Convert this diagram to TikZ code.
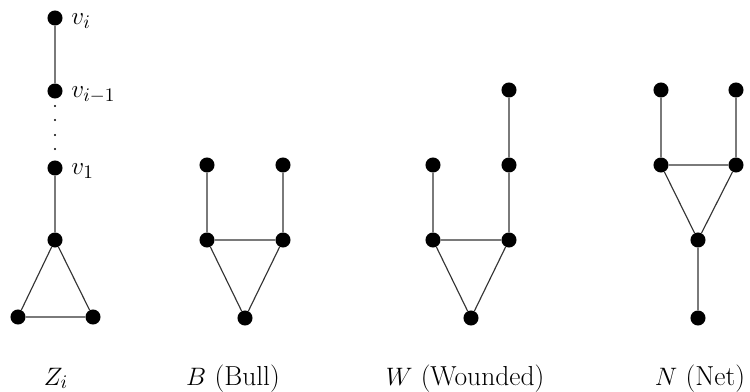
\documentclass[tikz,border=0pt]{standalone}
\begin{document}
\begin{tikzpicture}[x=0.5714pt,y=-0.5714pt,
  font=\fontsize{15.7}{19}\selectfont,
  vtx/.style={circle,fill=black,inner sep=0pt,minimum size=8.6pt},
  edge/.style={draw=black!80,line width=0.65pt},
  dt/.style={circle,fill=black,inner sep=0pt,minimum size=1.4pt},
  lbl/.style={anchor=base west,inner sep=0pt},
  captxt/.style={anchor=base,inner sep=0pt}]
\useasboundingbox (0,0) rectangle (750,392);
% Z_i
\node[vtx] (zi) at (55,18) {};
\node[vtx] (zim) at (55,91) {};
\node[vtx] (z1) at (55,168) {};
\node[vtx] (zh) at (55,240) {};
\node[vtx] (zl) at (18,317) {};
\node[vtx] (zr) at (93,317) {};
\node[dt] (d1) at (55,106) {};
\node[dt] (d2) at (55,120) {};
\node[dt] (d3) at (55,135) {};
\node[dt] (d4) at (55,149) {};
\node[lbl] (lzi) at (71,24.5) {$v_i$};
\node[lbl] (lzim) at (71,97.5) {$v_{i-1}$};
\node[lbl] (lz1) at (71,174.5) {$v_1$};
\draw[edge] (zi) -- (zim) (z1) -- (zh) -- (zl) -- (zr) -- (zh);
% B
\node[vtx] (b1) at (207,165) {};
\node[vtx] (b2) at (283,165) {};
\node[vtx] (b3) at (207,240) {};
\node[vtx] (b4) at (283,240) {};
\node[vtx] (b5) at (245,318) {};
\draw[edge] (b1) -- (b3) -- (b4) -- (b2) (b3) -- (b5) -- (b4);
% W
\node[vtx] (w1) at (433,165) {};
\node[vtx] (w0) at (509,90) {};
\node[vtx] (w2) at (509,165) {};
\node[vtx] (w3) at (433,240) {};
\node[vtx] (w4) at (509,240) {};
\node[vtx] (w5) at (471,318) {};
\draw[edge] (w1) -- (w3) -- (w4) -- (w2) -- (w0) (w3) -- (w5) -- (w4);
% N
\node[vtx] (n1) at (661,90) {};
\node[vtx] (n2) at (736,90) {};
\node[vtx] (n3) at (661,165) {};
\node[vtx] (n4) at (736,165) {};
\node[vtx] (n5) at (698,240) {};
\node[vtx] (n6) at (698,318) {};
\draw[edge] (n1) -- (n3) -- (n4) -- (n2) (n3) -- (n5) -- (n4) (n5) -- (n6);
% labels
\node[captxt] (t1) at (56,385) {$Z_i$};
\node[captxt] (t2) at (233,385) {$B$ (Bull)};
\node[captxt] (t3) at (465,385) {$W$ (Wounded)};
\node[captxt] (t4) at (700,385) {$N$ (Net)};
\end{tikzpicture}
\end{document}
